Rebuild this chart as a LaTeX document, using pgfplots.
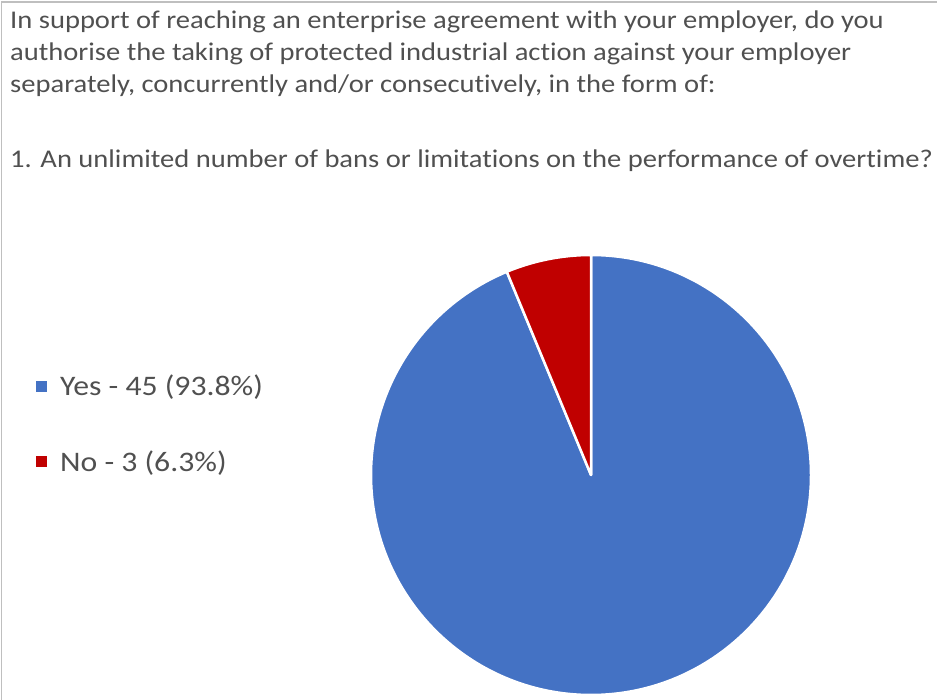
\documentclass[border=0pt]{standalone}
\usepackage{pgfplots}
\pgfplotsset{compat=1.18}
\usepackage{pgfplotstable}
\usepackage{fontspec}
\setmainfont{Carlito}
\newfontfamily\widefont[FakeStretch=1.12, RawFeature={-liga;-clig;-calt;-dlig}]{Carlito}
\newcommand\ti{t\kern0pt i}
\definecolor{yescol}{HTML}{4472C4}
\definecolor{nocol}{HTML}{C00000}
\definecolor{txt}{HTML}{505050}
\definecolor{framecol}{HTML}{BFBFBF}
\pgfplotstableread{
label value
Yes 45
No 3
}\piedata
\begin{document}
\begin{tikzpicture}[x=1pt,y=1pt]
\useasboundingbox (0,0) rectangle (937,699);
\pgfplotstablegetelem{0}{value}\of\piedata \pgfmathsetmacro{\va}{\pgfplotsretval}
\pgfplotstablegetelem{1}{value}\of\piedata \pgfmathsetmacro{\vb}{\pgfplotsretval}
\pgfmathsetmacro{\tot}{\va+\vb}
\pgfmathsetmacro{\angA}{90-360*\va/\tot}
\pgfmathsetmacro{\angB}{\angA+360}
\pgfmathsetmacro{\bx}{591+220*cos(\angB)}
\pgfmathsetmacro{\by}{224+220*sin(\angB)}
\begin{axis}[at={(0,0)}, anchor=south west, x=1pt, y=1pt,
  xmin=0, xmax=937, ymin=0, ymax=699, hide axis, clip=false]
\fill[yescol, draw=white, line width=2.5pt, line join=round]
  (axis cs:591,224) -- (axis cs:591,444) arc[start angle=90, end angle=\angA, radius=220pt] -- cycle;
\fill[nocol, draw=white, line width=2.5pt, line join=round]
  (axis cs:591,224) -- (axis cs:\bx,\by) arc[start angle=\angB, end angle=90, radius=220pt] -- cycle;
\end{axis}
\draw[framecol, line width=1.5pt] (1.5,-5) -- (1.5,697) -- (945,697);
\begin{scope}[every node/.style={anchor=base west, inner sep=0pt, text=txt, font=\widefont\fontsize{25.5}{30}\selectfont}]
\node at (10,699-28.5) {In support of reaching an enterprise agreement with your employer, do you};
\node at (10,699-61) {authorise the taking of protected industrial ac\ti on against your employer};
\node at (10,699-93) {separately, concurrently and/or consecu\ti vely, in the form of:};
\node at (10,699-168) {1. An unlimited number of bans or limita\ti ons on the performance of over\ti me?};
\end{scope}
\fill[yescol] (36,699-392) rectangle (47,699-381);
\fill[nocol] (36,699-467) rectangle (47,699-456);
\begin{scope}[every node/.style={anchor=base west, inner sep=0pt, text=txt, font=\widefont\fontsize{28.3}{32}\selectfont}]
\node at (60,699-396) {Yes - 45 (93.8\%)};
\node at (60,699-472) {No - 3 (6.3\%)};
\end{scope}
\end{tikzpicture}
\end{document}
